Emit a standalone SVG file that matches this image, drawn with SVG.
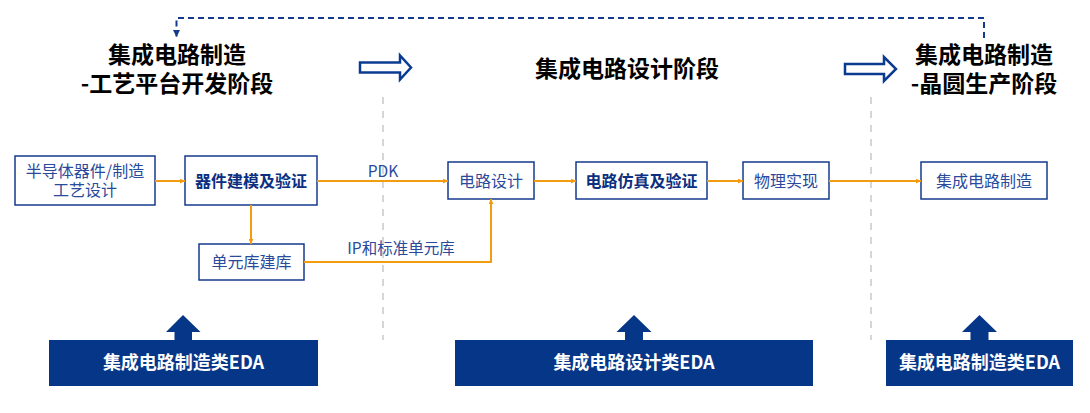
<svg xmlns="http://www.w3.org/2000/svg" width="1090" height="413" viewBox="0 0 1090 413">
<defs>
<style>
.cjk{font-family:"Noto Sans CJK SC","Noto Sans",sans-serif}
.title{font-size:23px;font-weight:700;fill:#000;text-anchor:middle}
.box{fill:#fff;stroke:#143a8c;stroke-width:1.5}
.lbl{font-size:16px;fill:#2a4a9c;text-anchor:middle}
.blbl{font-size:16px;font-weight:700;fill:#0c2f80;text-anchor:middle}
.con{fill:none;stroke:#f29c12;stroke-width:2}
.clbl{font-size:15.5px;fill:#2a4a9c;text-anchor:middle}
.eda{fill:#063688}
.edat{font-size:18px;font-weight:700;fill:#fff;text-anchor:middle}
.hollow{fill:#fff;stroke:#0b3b91;stroke-width:2.5;stroke-linejoin:miter}
.sep{stroke:#d6d6d6;stroke-width:2;stroke-dasharray:7 7;fill:none}
</style>
<marker id="oa" viewBox="0 0 10 10" refX="10" refY="5" markerWidth="5" markerHeight="5" orient="auto" markerUnits="userSpaceOnUse">
<path d="M0,0 L10,5 L0,10 Z" fill="#f29c12"/>
</marker>
<marker id="ba" viewBox="0 0 10 10" refX="10" refY="5" markerWidth="7" markerHeight="7" orient="auto" markerUnits="userSpaceOnUse">
<path d="M0,0 L10,5 L0,10 Z" fill="#143a8c"/>
</marker>
</defs>
<rect width="1090" height="413" fill="#fff"/>

<!-- separators -->
<line class="sep" x1="383" y1="97" x2="383" y2="340"/>
<line class="sep" x1="871" y1="97" x2="871" y2="340"/>

<!-- titles -->
<g id="title-left" class="cjk">
<text class="title"><tspan x="177" y="63">集成电路制造</tspan><tspan x="177" y="92">-工艺平台开发阶段</tspan></text>
</g>
<g id="title-mid" class="cjk">
<text class="title" x="627" y="77">集成电路设计阶段</text>
</g>
<g id="title-right" class="cjk">
<text class="title"><tspan x="984" y="63">集成电路制造</tspan><tspan x="984" y="92">-晶圆生产阶段</tspan></text>
</g>

<!-- hollow stage arrows -->
<g id="stage-arrow-1"><path class="hollow" d="M360,62.5 H400 V55.5 L411,67.5 L400,79.5 V72.5 H360 Z"/></g>
<g id="stage-arrow-2"><path class="hollow" d="M845,64 H884 V57 L896,69 L884,81 V74 H845 Z"/></g>

<!-- nodes -->
<g id="n-process" class="cjk">
<rect class="box" x="15" y="156" width="140" height="49"/>
<text class="lbl"><tspan x="85" y="177">半导体器件/制造</tspan><tspan x="85" y="196">工艺设计</tspan></text>
</g>
<g id="n-device" class="cjk">
<rect class="box" x="185" y="156" width="132" height="49"/>
<text class="blbl" x="251" y="187">器件建模及验证</text>
</g>
<g id="n-lib" class="cjk">
<rect class="box" x="199" y="244" width="105" height="36"/>
<text class="lbl" x="251.5" y="268">单元库建库</text>
</g>
<g id="n-circuit" class="cjk">
<rect class="box" x="448" y="162" width="86" height="37"/>
<text class="lbl" x="491" y="187">电路设计</text>
</g>
<g id="n-sim" class="cjk">
<rect class="box" x="576" y="162" width="131" height="37"/>
<text class="blbl" x="641.5" y="187">电路仿真及验证</text>
</g>
<g id="n-phys" class="cjk">
<rect class="box" x="743" y="162" width="86" height="37"/>
<text class="lbl" x="786" y="187">物理实现</text>
</g>
<g id="n-fab" class="cjk">
<rect class="box" x="921" y="162" width="126" height="37"/>
<text class="lbl" x="984" y="187">集成电路制造</text>
</g>

<!-- connectors -->
<g id="connectors">
<line class="con" x1="155" y1="181" x2="185" y2="181" marker-end="url(#oa)"/>
<line class="con" x1="317" y1="181" x2="448" y2="181" marker-end="url(#oa)"/>
<line class="con" x1="534" y1="181" x2="576" y2="181" marker-end="url(#oa)"/>
<line class="con" x1="707" y1="181" x2="743" y2="181" marker-end="url(#oa)"/>
<line class="con" x1="829" y1="181" x2="921" y2="181" marker-end="url(#oa)"/>
<line class="con" x1="251" y1="205" x2="251" y2="244" marker-end="url(#oa)"/>
<polyline class="con" points="304,262 491,262 491,199" marker-end="url(#oa)"/>
<text class="clbl cjk" x="383" y="177">PDK</text>
<text class="clbl cjk" x="401" y="254">IP和标准单元库</text>
<polyline fill="none" stroke="#143a8c" stroke-width="2" stroke-dasharray="6 4" points="984,38 984,18 176.5,18 176.5,37" marker-end="url(#ba)"/>
</g>

<!-- EDA blocks -->
<g id="eda-left" class="cjk">
<path class="eda" d="M183,315 L200.5,332 H192 V341 H174.5 V332 H166 Z"/>
<rect class="eda" x="49" y="340" width="269" height="46"/>
<text class="edat" x="183.5" y="369">集成电路制造类EDA</text>
</g>
<g id="eda-mid" class="cjk">
<path class="eda" d="M634,315 L651.5,332 H643 V341 H625 V332 H616.5 Z"/>
<rect class="eda" x="455" y="340" width="358" height="46"/>
<text class="edat" x="634" y="369">集成电路设计类EDA</text>
</g>
<g id="eda-right" class="cjk">
<path class="eda" d="M979.5,315 L997,332 H988.5 V341 H970.5 V332 H962 Z"/>
<rect class="eda" x="886" y="340" width="187" height="46"/>
<text class="edat" x="979.5" y="369">集成电路制造类EDA</text>
</g>
</svg>
